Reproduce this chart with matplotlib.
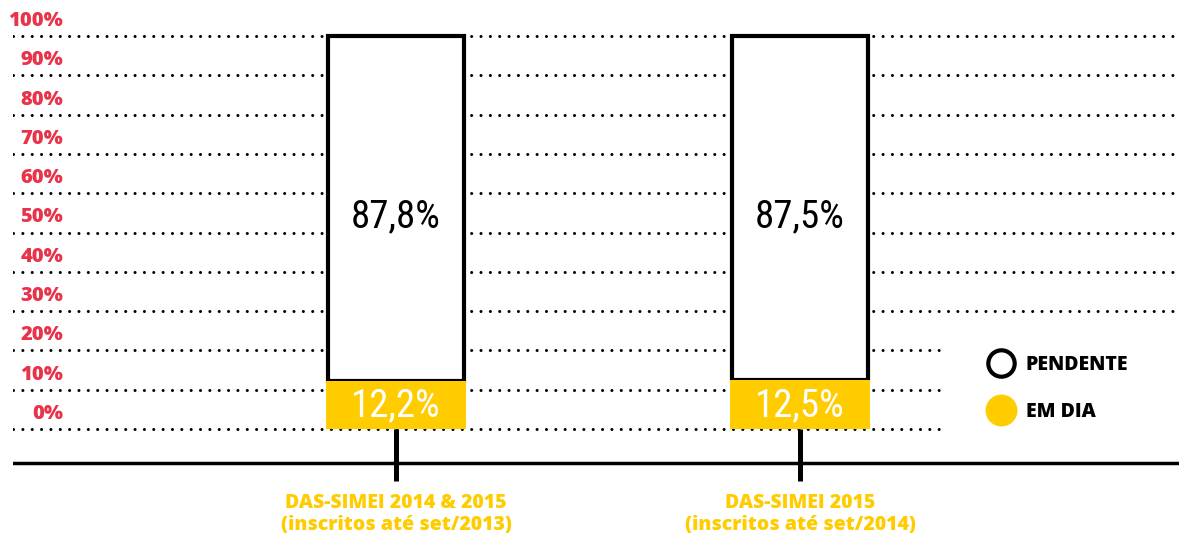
import matplotlib.pyplot as plt
from matplotlib import font_manager
from matplotlib.lines import Line2D

# data
categories = ["DAS-SIMEI 2014 & 2015\n(inscritos até set/2013)",
              "DAS-SIMEI 2015\n(inscritos até set/2014)"]
em_dia = [12.2, 12.5]
pendente = [87.8, 87.5]
em_dia_labels = ["12,2%", "12,5%"]
pendente_labels = ["87,8%", "87,5%"]
y_ticks = [0, 10, 20, 30, 40, 50, 60, 70, 80, 90, 100]
y_tick_labels = ["0%", "10%", "20%", "30%", "40%", "50%", "60%", "70%", "80%", "90%", "100%"]
legend_labels = ["PENDENTE", "EM DIA"]

YELLOW = "#FFCC00"
RED = "#E8344B"

# pick a condensed face if one is installed
installed = {f.name for f in font_manager.fontManager.ttflist}
narrow = [n for n in ["Liberation Sans Narrow", "Roboto Condensed", "Open Sans Condensed",
                      "DejaVu Sans Condensed"] if n in installed]
condensed = len(narrow) > 0
narrow = narrow + ["DejaVu Sans"]
bold_font = ["Open Sans", "DejaVu Sans"]

fig = plt.figure(figsize=(11.79, 5.39), dpi=100)
ax = fig.add_axes([13 / 1179, 0, 1 - 13 / 1179, 1])
px_per_pct = 3.93
ax.set_ylim(-(539 - 429) / px_per_pct, 100 + 36 / px_per_pct)
ax.set_xlim(-383 / 404, 783 / 404)
ax.axis("off")

# dotted grid lines (short ones below the legend)
for v in y_ticks:
    x_end = 1.0 if v >= 30 else (945 - 13) / (1179 - 13)
    ax.axhline(v, xmin=0, xmax=x_end, color="black", lw=2.2,
               dashes=(0.01, 3.05), dash_capstyle="round", zorder=1)
    ax.annotate(y_tick_labels[v // 10], xy=(0, v), xycoords=("axes fraction", "data"),
                xytext=(50, 5), textcoords="offset pixels", ha="right", va="bottom",
                color=RED, fontsize=14.5, fontweight="heavy", family=bold_font)

val_size = 28 if condensed else 21
x = range(len(categories))
ax.bar(x, pendente, bottom=em_dia, width=136 / 404, color="white",
       edgecolor="black", linewidth=3, zorder=2)
ax.bar(x, em_dia, width=140 / 404, color=YELLOW, linewidth=0, zorder=3)

for i in x:
    ax.text(i, em_dia[i] + pendente[i] / 2 - 2.2, pendente_labels[i], ha="center",
            va="center", fontsize=val_size, family=narrow, color="black", zorder=4)
    ax.text(i, em_dia[i] / 2 - 0.3, em_dia_labels[i], ha="center", va="center",
            fontsize=val_size, family=narrow, color="white", zorder=4)
    ax.plot([i, i], [0, -(481 - 429) / px_per_pct], color="black", lw=3.6,
            solid_capstyle="butt", zorder=2)
    ax.text(i, -(493 - 429) / px_per_pct, categories[i], ha="center", va="top",
            color=YELLOW, fontsize=14, fontweight="heavy", family=bold_font,
            linespacing=1.15)

# base axis line
ax.axhline(-(463 - 429) / px_per_pct, color="black", lw=2.5, zorder=2)

handles = [
    Line2D([], [], marker="o", ls="none", markersize=19, markerfacecolor="white",
           markeredgecolor="black", markeredgewidth=3),
    Line2D([], [], marker="o", ls="none", markersize=22, markerfacecolor=YELLOW,
           markeredgecolor=YELLOW),
]
leg = ax.legend(handles, legend_labels, loc="upper left",
                bbox_to_anchor=(987 / 1179, (539 - 355) / 539),
                bbox_transform=fig.transFigure, frameon=False,
                prop={"family": bold_font, "weight": "heavy", "size": 14},
                handlelength=1.4, handletextpad=0.6, labelspacing=1.4,
                borderpad=0, borderaxespad=0)

fig.savefig("out.png", dpi=100)
